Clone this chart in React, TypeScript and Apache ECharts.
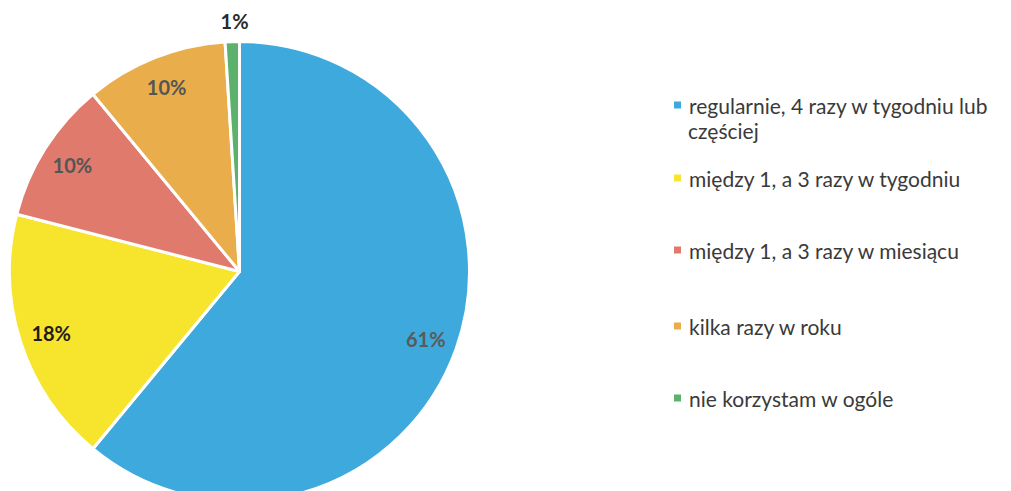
import React, { useEffect, useRef } from 'react';
import * as echarts from 'echarts';

const categories = [
  'regularnie, 4 razy w tygodniu lub częściej',
  'między 1, a 3 razy w tygodniu',
  'między 1, a 3 razy w miesiącu',
  'kilka razy w roku',
  'nie korzystam w ogóle',
];
const values = [61, 18, 10, 10, 1];
const sliceColors = ['#3EA9DD', '#F6E52C', '#E07A6C', '#E9AE4B', '#5CB26C'];
const labelColors = ['#5a5a5a', '#1e1e1e', '#555555', '#555555', '#2a2a2a'];

export default function App() {
  const ref = useRef<HTMLDivElement>(null);
  useEffect(() => {
    const chart = echarts.init(ref.current!, null, { renderer: 'svg' });
    const font = 'Lato, "Noto Sans", sans-serif';
    const legendCenters = [105, 178, 250, 326, 398];
    const center = [239.5, 271.5];
    const pieData = categories.map((name, i) => ({
      name,
      value: values[i],
      itemStyle: { color: sliceColors[i] },
    }));
    const labelData = categories.map((name, i) => ({
      name,
      value: values[i],
      label: {
        color: labelColors[i],
        position: values[i] < 3 ? 'outside' : 'inside',
      },
    }));
    chart.setOption({
      animation: false,
      backgroundColor: '#ffffff',
      legend: categories.map((name, i) => ({
        orient: 'vertical',
        left: 672,
        top: legendCenters[i] - 13,
        padding: 0,
        itemWidth: 9,
        itemHeight: 9,
        icon: 'rect',
        selectedMode: false,
        data: [{ name, itemStyle: { color: sliceColors[i] } }],
        formatter: (n: string) => (i === 0 ? 'regularnie, 4 razy w tygodniu lub' : n),
        textStyle: { fontFamily: font, fontSize: 21, color: '#3a3a3a', lineHeight: 26, padding: [0, 0, 0, 2] },
      })),
      graphic: [
        {
          type: 'text',
          left: 688,
          top: 133 - 13,
          style: { text: 'częściej', font: '21px Lato, "Noto Sans", sans-serif', fill: '#3a3a3a' },
        },
      ],
      series: [
        {
          type: 'pie',
          center,
          radius: [0, 230],
          startAngle: 90,
          clockwise: true,
          silent: true,
          label: { show: false },
          labelLine: { show: false },
          itemStyle: { borderColor: '#ffffff', borderWidth: 3 },
          data: pieData,
        },
        {
          type: 'pie',
          center,
          radius: [160, 230],
          startAngle: 90,
          clockwise: true,
          silent: true,
          avoidLabelOverlap: false,
          itemStyle: { color: 'transparent', borderWidth: 0 },
          label: {
            show: true,
            position: 'inside',
            fontFamily: font,
            fontSize: 20,
            fontWeight: 'bold',
            distanceToLabelLine: -17,
            formatter: (p: any) => p.value + '%',
          },
          labelLine: { show: false, length: 21, length2: 0 },
          data: labelData,
        },
      ],
    });
    return () => chart.dispose();
  }, []);
  return (
    <div
      ref={ref}
      style={{ position: 'fixed', left: 0, top: 0, width: 1011, height: 491 }}
    />
  );
}
